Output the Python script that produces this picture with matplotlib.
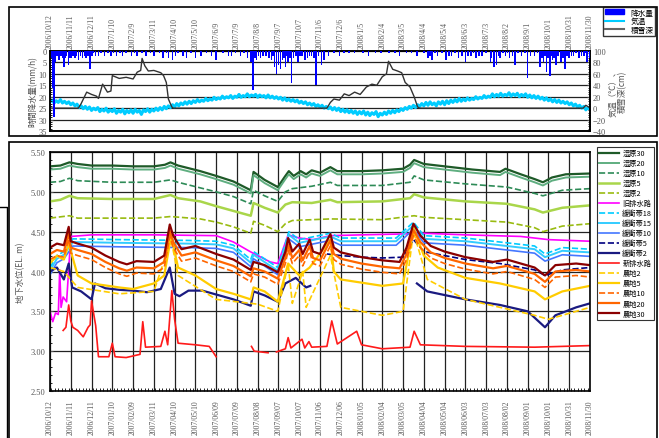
import numpy as np
import matplotlib.pyplot as plt
import matplotlib.dates as mdates
from matplotlib.lines import Line2D
from matplotlib.patches import Rectangle
import datetime as dt

plt.rcParams['font.family'] = ['Liberation Serif', 'Noto Sans CJK JP']

start = dt.date(2006, 10, 12)
tick_days = list(range(0, 781, 30))

# 時間降水量 (mm/h): (経過日, 値)
rain = [(2, 3), (4, 16), (6, 29), (8, 5), (10, 2), (13, 4), (16, 2), (18, 3), (20, 7), (22, 3),
        (24, 2), (27, 6), (29, 3), (31, 3), (33, 2), (36, 3), (38, 2), (41, 4), (44, 2), (47, 3),
        (50, 2), (52, 3), (55, 2), (58, 8), (61, 2), (63, 1), (66, 2), (70, 2), (74, 1), (79, 2),
        (84, 1), (88, 2), (92, 1), (96, 2), (101, 1), (105, 2), (110, 1), (118, 2), (122, 1),
        (126, 2), (133, 1), (139, 2), (145, 1), (150, 2), (158, 1), (163, 3), (168, 1), (171, 3),
        (177, 4), (181, 2), (185, 1), (192, 2), (197, 3), (204, 1), (210, 3), (218, 2), (226, 1),
        (233, 2), (240, 4), (250, 1), (258, 2), (262, 2), (268, 1), (275, 2), (280, 1), (285, 3),
        (290, 5), (293, 17), (296, 3), (298, 4), (301, 2), (304, 3), (308, 2), (312, 2), (316, 3),
        (320, 4), (322, 2), (324, 7), (327, 10), (330, 6), (333, 8), (336, 4), (338, 3), (340, 7),
        (342, 2), (344, 5), (347, 3), (349, 14), (352, 3), (355, 2), (358, 5), (361, 2), (364, 2),
        (368, 4), (372, 3), (375, 2), (378, 2), (381, 3), (384, 15), (388, 2), (392, 6), (396, 4),
        (402, 2), (410, 1), (418, 2), (425, 1), (432, 1), (440, 1), (452, 1), (460, 2), (470, 1),
        (478, 1), (490, 1), (498, 1), (505, 2), (515, 1), (522, 1), (530, 2), (540, 1), (546, 3),
        (549, 2), (552, 4), (556, 1), (560, 2), (566, 1), (572, 4), (576, 2), (580, 2), (585, 1),
        (590, 3), (595, 2), (600, 5), (604, 2), (608, 2), (612, 1), (615, 3), (620, 2), (624, 2),
        (630, 1), (636, 5), (638, 3), (641, 7), (645, 6), (648, 2), (650, 3), (654, 1), (658, 2),
        (661, 1), (664, 3), (668, 2), (672, 6), (676, 1), (681, 2), (686, 1), (690, 12), (694, 2),
        (700, 2), (704, 1), (708, 7), (711, 3), (713, 5), (715, 2), (717, 9), (719, 3), (722, 11),
        (724, 2), (726, 4), (728, 3), (731, 6), (734, 2), (738, 5), (741, 3), (744, 8), (747, 2),
        (750, 3), (753, 2), (756, 2), (760, 1), (764, 3), (768, 2), (771, 2), (774, 1), (776, 5),
        (779, 3)]

# 気温 (℃)
temp = [(0, 11), (3, 14), (6, 9), (9, 13), (12, 10), (15, 15), (18, 9), (21, 12), (24, 8),
        (27, 11), (30, 6), (33, 9), (36, 4), (39, 7), (42, 1), (45, 4), (48, -1), (51, 3),
        (54, -2), (57, 2), (60, -4), (63, 0), (66, -3), (69, 1), (72, -6), (75, -2), (78, -5),
        (81, 0), (84, -7), (87, -3), (90, -6), (93, -1), (96, -9), (99, -4), (102, -7), (105, -2),
        (108, -10), (111, -4), (114, -8), (117, -3), (120, -9), (123, -2), (126, -7), (129, -4),
        (132, -11), (135, -3), (138, -6), (141, -1), (144, -7), (147, -2), (150, -5), (153, 0),
        (156, -4), (159, 1), (162, -3), (165, 3), (168, -1), (171, 4), (174, 1), (177, 6), (180, 2),
        (183, 8), (186, 4), (189, 9), (192, 6), (195, 11), (198, 7), (201, 12), (204, 8), (207, 13),
        (210, 10), (213, 15), (216, 11), (219, 14), (222, 12), (225, 17), (228, 13), (231, 16),
        (234, 14), (237, 19), (240, 15), (243, 18), (246, 16), (249, 21), (252, 17), (255, 20),
        (258, 18), (261, 22), (264, 17), (267, 21), (270, 19), (273, 24), (276, 19), (279, 22),
        (282, 20), (285, 25), (288, 20), (291, 23), (294, 21), (297, 24), (300, 19), (303, 23),
        (306, 20), (309, 22), (312, 18), (315, 23), (318, 18), (321, 21), (324, 17), (327, 20),
        (330, 16), (333, 19), (336, 14), (339, 18), (342, 13), (345, 16), (348, 12), (351, 15),
        (354, 11), (357, 14), (360, 9), (363, 12), (366, 8), (369, 11), (372, 6), (375, 9),
        (378, 5), (381, 8), (384, 3), (387, 6), (390, 2), (393, 5), (396, 0), (399, 3), (402, -1),
        (405, 2), (408, -3), (411, 1), (414, -4), (417, 0), (420, -6), (423, -2), (426, -7),
        (429, -3), (432, -8), (435, -4), (438, -9), (441, -5), (444, -11), (447, -6), (450, -10),
        (453, -5), (456, -12), (459, -7), (462, -13), (465, -8), (468, -11), (471, -6), (474, -15),
        (477, -9), (480, -12), (483, -7), (486, -11), (489, -5), (492, -9), (495, -4), (498, -8),
        (501, -3), (504, -6), (507, -1), (510, -4), (513, 1), (516, -2), (519, 3), (522, 0),
        (525, 5), (528, 1), (531, 6), (534, 3), (537, 8), (540, 4), (543, 10), (546, 5), (549, 11),
        (552, 6), (555, 9), (558, 4), (561, 11), (564, 7), (567, 12), (570, 6), (573, 13),
        (576, 8), (579, 14), (582, 10), (585, 15), (588, 11), (591, 17), (594, 12), (597, 16),
        (600, 13), (603, 18), (606, 14), (609, 17), (612, 15), (615, 20), (618, 16), (621, 19),
        (624, 17), (627, 22), (630, 18), (633, 21), (636, 19), (639, 25), (642, 20), (645, 24),
        (648, 21), (651, 26), (654, 21), (657, 24), (660, 22), (663, 27), (666, 21), (669, 25),
        (672, 22), (675, 26), (678, 20), (681, 24), (684, 21), (687, 25), (690, 19), (693, 23),
        (696, 18), (699, 22), (702, 17), (705, 21), (708, 16), (711, 19), (714, 14), (717, 18),
        (720, 13), (723, 16), (726, 11), (729, 15), (732, 10), (735, 14), (738, 9), (741, 12),
        (744, 8), (747, 11), (750, 6), (753, 9), (756, 4), (759, 7), (762, 2), (765, 5), (768, 0),
        (771, 3), (774, -3), (777, 1), (780, -2)]

# 積雪深 (cm)
snow = [(0, 0), (41, 0), (45, 8), (53, 28), (60, 24), (67, 21), (70, 17), (76, 42), (83, 28),
        (88, 30), (90, 57), (100, 52), (110, 54), (120, 51), (126, 63), (131, 66), (133, 87),
        (137, 74), (142, 65), (150, 66), (160, 62), (164, 57), (168, 45), (171, 16), (176, 2),
        (178, 0), (400, 0), (405, 10), (410, 16), (418, 14), (425, 25), (432, 22), (440, 28),
        (448, 24), (457, 37), (465, 42), (472, 40), (480, 55), (486, 60), (489, 82), (495, 68),
        (502, 65), (508, 62), (513, 45), (520, 37), (526, 20), (531, 2), (534, 0), (770, 0),
        (774, 5), (778, 2), (780, 0)]

# 地下水位 (EL.m)
w30 = [(0, 5.32), (15, 5.33), (28, 5.37), (40, 5.35), (60, 5.33), (90, 5.33), (120, 5.32),
       (150, 5.32), (166, 5.34), (174, 5.37), (185, 5.33), (217, 5.26), (240, 5.20), (265, 5.13),
       (290, 5.02), (294, 5.25), (310, 5.15), (329, 5.06), (340, 5.20), (345, 5.26), (352, 5.20),
       (362, 5.26), (370, 5.22), (378, 5.27), (390, 5.24), (405, 5.31), (415, 5.26), (450, 5.26),
       (480, 5.27), (510, 5.29), (520, 5.34), (526, 5.40), (540, 5.35), (570, 5.32), (610, 5.28),
       (650, 5.25), (658, 5.29), (680, 5.22), (700, 5.16), (712, 5.12), (725, 5.18), (745, 5.22),
       (780, 5.23)]
w20 = [(d, v - 0.04) for d, v in w30]
w10 = [(0, 5.12), (15, 5.13), (28, 5.17), (40, 5.14), (90, 5.12), (150, 5.12), (174, 5.15),
       (185, 5.12), (217, 5.05), (240, 5.00), (265, 4.94), (290, 4.85), (294, 5.02), (310, 4.95),
       (329, 4.88), (340, 5.00), (350, 5.04), (378, 5.07), (405, 5.12), (415, 5.08), (480, 5.08),
       (520, 5.12), (526, 5.20), (540, 5.15), (600, 5.10), (660, 5.06), (700, 4.98), (712, 4.95),
       (740, 5.02), (780, 5.04)]
w5 = [(0, 4.88), (15, 4.90), (28, 4.95), (40, 4.92), (90, 4.91), (150, 4.91), (174, 4.96),
      (185, 4.92), (217, 4.88), (240, 4.82), (265, 4.76), (290, 4.70), (294, 4.86), (310, 4.80),
      (329, 4.74), (340, 4.84), (350, 4.87), (378, 4.86), (405, 4.90), (415, 4.87), (480, 4.88),
      (520, 4.92), (526, 4.97), (540, 4.93), (600, 4.88), (660, 4.85), (700, 4.78), (712, 4.74),
      (740, 4.80), (780, 4.83)]
w2 = [(0, 4.67), (28, 4.70), (40, 4.67), (150, 4.67), (174, 4.69), (217, 4.66), (240, 4.62),
      (265, 4.56), (290, 4.48), (294, 4.63), (310, 4.58), (329, 4.50), (340, 4.60), (350, 4.64),
      (405, 4.66), (480, 4.65), (526, 4.70), (540, 4.68), (600, 4.65), (660, 4.62), (700, 4.55),
      (712, 4.50), (740, 4.57), (780, 4.60)]
old_drain = [(0, 3.50), (4, 3.37), (8, 3.48), (12, 3.46), (14, 4.02), (16, 3.55), (19, 3.68),
             (24, 3.62), (30, 4.44), (60, 4.46), (150, 4.46), (240, 4.45), (265, 4.37), (289, 4.25),
             (318, 4.12), (329, 4.10), (344, 4.46), (360, 4.42), (380, 4.40), (405, 4.45),
             (450, 4.46), (505, 4.47), (540, 4.48), (600, 4.46), (680, 4.44), (720, 4.40),
             (780, 4.38)]
buf18 = [(0, 4.05), (10, 4.20), (20, 4.25), (33, 4.41), (100, 4.40), (200, 4.39), (240, 4.38),
         (265, 4.33), (290, 4.15), (294, 4.25), (329, 4.05), (340, 4.35), (345, 4.50), (360, 4.40),
         (405, 4.48), (420, 4.42), (500, 4.42), (525, 4.62), (540, 4.45), (600, 4.42), (700, 4.32),
         (715, 4.22), (740, 4.30), (780, 4.28)]
buf15 = [(d, v - 0.04) for d, v in buf18]
buf10 = [(d, v - 0.09) for d, v in buf18]
buf5 = [(400, 4.22), (420, 4.20), (450, 4.18), (480, 4.17), (510, 4.18), (525, 4.40),
        (540, 4.25), (600, 4.15), (650, 4.10), (700, 4.02), (715, 3.95), (740, 4.02), (780, 4.05)]
buf2 = [(0, 4.00), (10, 4.05), (20, 3.90), (27, 4.10), (32, 3.80), (45, 3.75), (60, 3.65),
        (65, 3.85), (80, 3.79), (100, 3.77), (120, 3.76), (140, 3.74), (160, 3.78), (173, 4.05),
        (180, 3.72), (187, 3.69), (200, 3.76), (220, 3.76), (265, 3.65), (290, 3.57), (294, 3.75),
        (310, 3.70), (329, 3.62), (340, 3.85), (355, 3.92), (370, 3.80), (376, 3.82), (377, None),
        (530, 3.85), (545, 3.75), (600, 3.65), (650, 3.58), (690, 3.50), (705, 3.38), (715, 3.30),
        (730, 3.45), (760, 3.55), (780, 3.60)]
new_drain = [(19, 3.26), (23, 3.30), (27, 3.58), (30, 3.38), (33, 3.30), (40, 3.26), (48, 3.18),
             (55, 3.30), (58, 3.33), (60, 3.63), (66, 3.32), (70, 2.93), (85, 2.93), (90, 3.10),
             (94, 2.93), (110, 2.92), (130, 2.96), (134, 3.37), (138, 3.05), (160, 3.06),
             (166, 3.25), (170, 3.08), (176, 3.76), (180, 3.40), (185, 3.10), (210, 3.08),
             (230, 3.06), (240, 2.93), (241, None), (291, 3.06), (295, 3.00), (315, 2.98),
             (316, None), (327, 2.99), (340, 3.03), (344, 3.17), (348, 3.04), (364, 3.15),
             (368, 3.04), (374, 3.12), (378, 3.05), (400, 3.06), (407, 3.38), (415, 3.09),
             (443, 3.25), (450, 3.08), (480, 3.03), (520, 3.05), (526, 3.25), (535, 3.08),
             (600, 3.06), (700, 3.05), (780, 3.07)]
farm2 = [(0, 4.05), (20, 4.00), (40, 3.80), (100, 3.72), (150, 3.75), (175, 4.40), (185, 3.95),
         (240, 3.65), (300, 3.59), (329, 3.50), (344, 4.10), (350, 3.60), (365, 4.00), (370, 3.55),
         (405, 4.20), (420, 3.55), (480, 3.45), (510, 3.50), (525, 4.50), (545, 3.90), (600, 3.65),
         (700, 3.45), (720, 3.40), (780, 3.55)]
farm5 = [(0, 4.10), (10, 4.20), (20, 4.15), (27, 4.35), (40, 3.95), (60, 3.85), (100, 3.80),
         (120, 3.78), (150, 3.85), (165, 3.95), (175, 4.45), (185, 4.05), (210, 3.95), (240, 3.78),
         (265, 3.72), (290, 3.65), (294, 3.80), (310, 3.75), (329, 3.62), (344, 4.10), (360, 3.95),
         (375, 4.05), (405, 4.40), (410, 4.00), (420, 3.90), (480, 3.82), (510, 3.85), (525, 4.55),
         (540, 4.20), (560, 4.05), (600, 3.92), (650, 3.85), (700, 3.75), (715, 3.65), (740, 3.75),
         (780, 3.82)]
farm30 = [(0, 4.30), (10, 4.35), (20, 4.33), (27, 4.56), (30, 4.38), (40, 4.35), (60, 4.30),
          (80, 4.20), (100, 4.12), (111, 4.09), (125, 4.13), (150, 4.12), (165, 4.20), (173, 4.59),
          (178, 4.45), (190, 4.28), (210, 4.32), (240, 4.22), (265, 4.15), (290, 4.02), (294, 4.12),
          (310, 4.08), (329, 3.99), (340, 4.25), (344, 4.42), (350, 4.25), (360, 4.35), (365, 4.22),
          (375, 4.40), (380, 4.25), (390, 4.22), (405, 4.47), (410, 4.30), (420, 4.24), (450, 4.18),
          (480, 4.14), (505, 4.12), (515, 4.30), (525, 4.60), (535, 4.45), (550, 4.32), (570, 4.25),
          (600, 4.18), (640, 4.12), (660, 4.15), (700, 4.05), (715, 3.95), (730, 4.08), (760, 4.10),
          (780, 4.08)]
farm20 = [(d, v - 0.08) for d, v in farm30]
farm10 = [(d, v - 0.15) for d, v in farm30]

series = [
    ('湿原30', w30, '#1e5a28', '-', 1.6),
    ('湿原20', w20, '#5fae80', '-', 1.4),
    ('湿原10', w10, '#2e8b57', '--', 1.2),
    ('湿原5', w5, '#a9d64a', '-', 1.8),
    ('湿原2', w2, '#99bb11', '--', 1.2),
    ('旧排水路', old_drain, '#ff00ff', '-', 1.2),
    ('緩衝帯18', buf18, '#00ccff', '--', 1.2),
    ('緩衝帯15', buf15, '#33ccff', '-', 1.4),
    ('緩衝帯10', buf10, '#4477ff', '-', 1.2),
    ('緩衝帯5', buf5, '#000080', '--', 1.2),
    ('緩衝帯2', buf2, '#1a1a80', '-', 1.6),
    ('新排水路', new_drain, '#ff1a1a', '-', 1.2),
    ('農地2', farm2, '#ffcc00', '--', 1.2),
    ('農地5', farm5, '#ffcc00', '-', 1.6),
    ('農地10', farm10, '#ff6600', '--', 1.2),
    ('農地20', farm20, '#ff6600', '-', 1.6),
    ('農地30', farm30, '#8b0000', '-', 1.6),
]


def to_dates(pairs):
    d = [start + dt.timedelta(days=p[0]) for p in pairs]
    v = [np.nan if p[1] is None else p[1] for p in pairs]
    return d, v


tick_dates = [start + dt.timedelta(days=d) for d in tick_days]
x0, x1 = tick_dates[0], tick_dates[-1]
tick_col = '#555555'

fig = plt.figure(figsize=(6.59, 4.39), dpi=100)

# 外枠
fig.add_artist(Rectangle((9 / 659, 1 - 137 / 439), 648 / 659, 129 / 439, fill=False,
                         lw=1.2, ec='black', transform=fig.transFigure))
fig.add_artist(Rectangle((9 / 659, -0.01), 648 / 659, 1 - 143 / 439 + 0.01, fill=False,
                         lw=1.2, ec='black', transform=fig.transFigure))
fig.add_artist(Line2D([0, 7 / 659, 7 / 659], [1 - 208 / 439, 1 - 208 / 439, 0], lw=1,
                      color='black', transform=fig.transFigure))

# 上段: 降水量・気温・積雪深
ax1 = fig.add_axes([50 / 659, 1 - 132 / 439, 540 / 659, 80 / 439])
ax2 = ax1.twinx()
ax1.set_zorder(ax2.get_zorder() + 1)
ax1.patch.set_visible(False)
rd, rv = to_dates(rain)
ax1.bar(rd, rv, width=2.2, color='#0000ff', zorder=3)
ax1.set_ylim(35, 0)
ax1.set_yticks(range(0, 36, 5))
ax1.set_xlim(x0, x1)
ax1.set_xticks(tick_dates)
ax1.set_xticklabels([f'{d.year}/{d.month}/{d.day}' for d in tick_dates], rotation=90,
                    fontsize=5.5, color=tick_col)
ax1.xaxis.tick_top()
ax1.tick_params(axis='x', length=0, pad=2)
ax1.tick_params(axis='y', labelsize=6, colors=tick_col, length=2, direction='in', pad=2)
ax1.yaxis.set_minor_locator(plt.MultipleLocator(1))
ax1.tick_params(axis='y', which='minor', length=1.5, direction='in')
ax2.grid(True, color='#222222', lw=0.9)
ax2.set_xticks(tick_dates)
ax1.set_ylabel('時間降水量(mm/h)', fontsize=6, color=tick_col, family='Noto Sans CJK JP',
               labelpad=1)

td, tv = to_dates(temp)
sd, sv = to_dates(snow)
ax2.plot(td, tv, color='#00ccff', lw=2.2, zorder=2)
ax2.plot(sd, sv, color='#333333', lw=1.0, zorder=3)
ax2.set_ylim(-40, 100)
ax2.set_yticks(range(-40, 101, 20))
ax2.tick_params(axis='y', labelsize=6, colors=tick_col, length=2, direction='in', pad=2)
ax2.yaxis.set_minor_locator(plt.MultipleLocator(4))
ax2.tick_params(axis='y', which='minor', length=1.5, direction='in')
ax2.set_ylabel('気温（℃）、\n積雪深(cm)', fontsize=6, color=tick_col, family='Noto Sans CJK JP',
               labelpad=2, linespacing=1.0)
for a in (ax1, ax2):
    for s in a.spines.values():
        s.set_linewidth(1.2)

leg1 = fig.legend(handles=[Rectangle((0, 0), 1, 1, color='#0000ff'),
                           Line2D([], [], color='#00ccff', lw=1.5),
                           Line2D([], [], color='#666666', lw=1.5)],
                  labels=['降水量', '気温', '積雪深'], loc='upper right',
                  bbox_to_anchor=(655 / 659, 1 - 8 / 439), prop={'family': 'Noto Sans CJK JP', 'size': 5.5},
                  frameon=True, fancybox=False, edgecolor='black', borderpad=0.2,
                  handlelength=2.6, handleheight=0.6, labelspacing=0.1, borderaxespad=0)
leg1.get_frame().set_linewidth(1.0)

# 下段: 地下水位
ax3 = fig.add_axes([50 / 659, 1 - 392 / 439, 540 / 659, 239 / 439])
handles = []
for name, data, col, ls, lw in series:
    d, v = to_dates(data)
    h, = ax3.plot(d, v, color=col, ls=ls, lw=lw, label=name)
    handles.append(h)
ax3.set_ylim(2.5, 5.5)
ax3.set_yticks(np.arange(2.5, 5.51, 0.5))
ax3.set_yticklabels([f'{v:.2f}' for v in np.arange(2.5, 5.51, 0.5)])
ax3.yaxis.set_minor_locator(plt.MultipleLocator(0.1))
ax3.set_xlim(x0, x1)
ax3.set_xticks(tick_dates)
ax3.set_xticklabels([d.strftime('%Y/%m/%d') for d in tick_dates], rotation=90,
                    fontsize=5.5, color=tick_col)
ax3.xaxis.set_minor_locator(mdates.DayLocator(interval=5))
ax3.tick_params(axis='x', length=0, pad=6)
ax3.tick_params(axis='x', which='minor', length=2, direction='in')
ax3.tick_params(axis='y', labelsize=6, colors=tick_col, length=2, direction='in', pad=3)
ax3.tick_params(axis='y', which='minor', length=1.5, direction='in')
ax3.grid(True, color='#222222', lw=0.9)
ax3.set_axisbelow(True)
for s in ax3.spines.values():
    s.set_linewidth(1.2)
ax3.set_ylabel('地下水位(EL. m)', fontsize=6, color=tick_col, family='Noto Sans CJK JP',
               labelpad=4)

leg2 = fig.legend(handles=handles, labels=[s[0] for s in series], loc='upper left',
                  bbox_to_anchor=(597 / 659, 1 - 148 / 439),
                  prop={'family': 'Noto Sans CJK JP', 'size': 5.2}, frameon=True, fancybox=False,
                  edgecolor='black', borderpad=0.3, handlelength=2.8, labelspacing=0.28,
                  borderaxespad=0, handletextpad=0.4)
leg2.get_frame().set_linewidth(0.8)

fig.savefig('out.png', dpi=100)
